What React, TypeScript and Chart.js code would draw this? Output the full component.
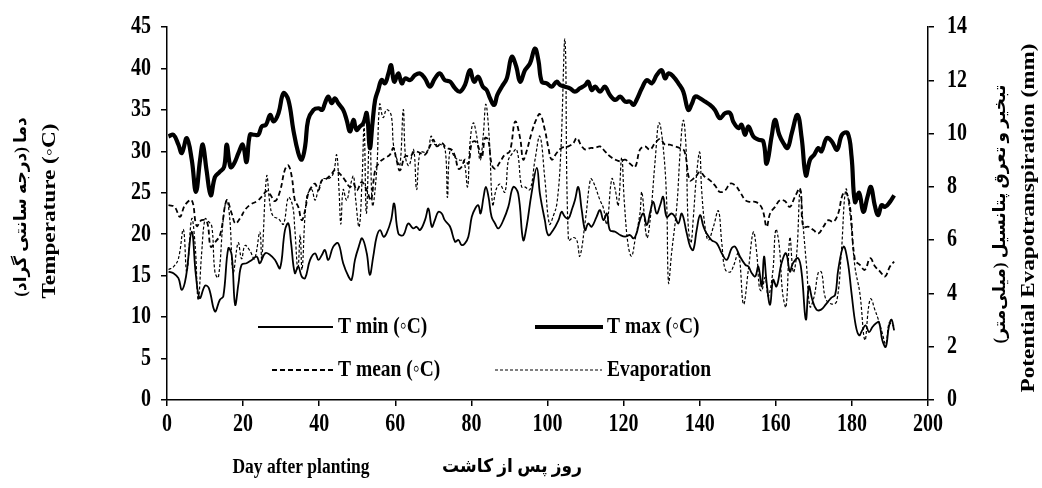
import React, { useEffect, useRef } from "react";
import { Chart, registerables } from "chart.js";
Chart.register(...registerables);

// ---- Data ----
const xTickValues = [0, 20, 40, 60, 80, 100, 120, 140, 160, 180, 200];
const leftTicks = [0, 5, 10, 15, 20, 25, 30, 35, 40, 45];
const rightTicks = [0, 2, 4, 6, 8, 10, 12, 14];

const seriesLabels = ["T min (◦C)", "T max (◦C)", "T mean (◦C)", "Evaporation"];

const tmaxDays = [0.4, 1.7, 3.0, 3.9, 5.2, 6.5, 7.6, 8.7, 9.4, 10.4, 11.5, 12.6, 13.8, 15, 15.7, 16.7, 17.6, 18.8, 19.9, 20.9, 21.8, 22.9, 24, 24.9, 26, 27.1, 28, 29.3, 30.6, 31.9, 33.2, 34.5, 35.4, 36.3, 37.1, 38.5, 39.8, 40.8, 41.5, 42.4, 43.3, 44.1, 45, 46.3, 47.2, 48.1, 49, 49.8, 50.7, 51.6, 52.5, 53.3, 54, 54.7, 55.5, 56.4, 57.3, 58.2, 58.9, 59.7, 60.8, 61.7, 62.6, 63.9, 65.2, 66.5, 67.8, 69.1, 70.4, 71.7, 73, 74.4, 75.7, 77, 78.3, 79.6, 80.7, 81.8, 83, 84, 84.9, 86, 86.8, 88, 89.3, 90.6, 91.8, 92.8, 94.1, 95.4, 96.7, 97.6, 98.5, 99.8, 101.1, 102.4, 103.3, 104.6, 105.9, 107.2, 108.5, 109.9, 110.7, 111.6, 112.5, 113.8, 115.1, 116.4, 117.8, 119.1, 120.4, 121.7, 122.6, 123.4, 124.8, 126.1, 127.4, 128.7, 130, 130.9, 131.8, 133.1, 134.4, 135.7, 137, 138, 138.8, 140.1, 141.4, 142.7, 144, 145.3, 146.7, 148, 148.8, 150.2, 151, 151.9, 152.8, 154.1, 155.4, 156.7, 157.6, 158.9, 159.8, 160.9, 162, 163.1, 164.2, 165.7, 166.8, 167.9, 169, 170.1, 171.2, 172, 173.4, 174.7, 176.1, 177.4, 178.9, 179.9, 180.8, 181.9, 183, 184.1, 185, 186, 186.9, 187.8, 188.7, 190, 191.1];
const tmaxVals = [31.8, 32.0, 30.8, 29.8, 31.6, 29, 25.1, 29, 30.8, 27.7, 24.7, 26.9, 27.5, 28.1, 30.8, 28.1, 28.5, 29.8, 30.8, 28.7, 32, 32, 32, 33, 33.2, 34.4, 33.6, 34.6, 37, 36.2, 32.6, 29.8, 29, 30.6, 33.8, 35, 35.2, 35, 35.8, 36.6, 35.8, 36.4, 35.8, 35, 33.8, 32.4, 33.8, 32.6, 33, 33.4, 34.6, 30.4, 33.4, 36.2, 37.4, 38.6, 38.2, 39.4, 40.4, 38.4, 39.4, 38.2, 38.8, 38.6, 39.2, 39.4, 38.8, 37.8, 38.8, 39.4, 38.6, 38.4, 37.6, 37.2, 38, 39.8, 38.4, 39, 37.8, 37.4, 36.4, 35.6, 36.8, 37.8, 38.8, 41.4, 40.2, 38.4, 39.8, 40.6, 42.4, 41, 38.4, 38.2, 37.8, 38.4, 38, 37.8, 37.6, 37.2, 37.6, 38, 38.4, 37.4, 37.8, 37.2, 37.8, 36.8, 36.2, 36.6, 36, 36, 35.6, 36.2, 37.6, 38.6, 38.2, 39.2, 39.8, 38.8, 39.4, 39, 38.2, 37.2, 35, 35.8, 36.6, 36.4, 36, 35.6, 35, 34, 34.6, 34.6, 33.6, 32.8, 33.2, 32, 33, 31.8, 31.4, 31.2, 28.5, 31.8, 33.8, 32, 31, 30.4, 32.2, 34.4, 31.6, 27.1, 29, 29.6, 30.4, 30, 31.6, 31.2, 30.2, 32, 32.2, 29.4, 23.9, 25, 22.7, 24.5, 25.7, 23.5, 22.3, 23.5, 23.3, 23.9, 24.7];

const tminDays = [0.4, 1.7, 3, 3.9, 5, 6.5, 7.6, 8.6, 10, 11, 12.6, 13.9, 14.8, 16.1, 17, 17.9, 18.8, 19.6, 20.9, 22.3, 23.6, 24.4, 25.8, 27.1, 28.4, 29.7, 31, 31.9, 32.6, 33.6, 34.5, 35.4, 36.3, 37.6, 38.9, 39.8, 40.7, 41.5, 42.4, 43.7, 45, 46.3, 47.7, 48.5, 49.4, 50.4, 51.3, 52.5, 53.3, 54.2, 55.1, 56, 56.9, 57.7, 58.9, 59.7, 60.8, 62.1, 63.4, 64.7, 65.6, 66.5, 67.8, 68.7, 69.6, 70.4, 71.3, 72.2, 73, 74.4, 75.7, 76.6, 77.4, 78.3, 79.2, 80.1, 81, 81.8, 82.4, 83.2, 83.8, 84.5, 85.3, 86.2, 87.1, 88.4, 89.7, 91, 92.3, 93.6, 94.5, 95.8, 97.2, 98, 99.3, 100.2, 101.5, 102.9, 103.7, 104.6, 105.5, 106.5, 107.2, 108.1, 109, 109.9, 110.7, 111.6, 112.9, 113.8, 114.7, 115.6, 116.4, 117.8, 119.1, 120.4, 121.7, 122.6, 123.4, 124.3, 125.2, 126.1, 127, 127.8, 128.7, 129.6, 130.4, 131.3, 132.6, 133.5, 134.4, 135.3, 136.6, 137.5, 138.3, 139.2, 140.1, 141, 141.8, 143.1, 144.5, 145.8, 147.1, 148.4, 149.3, 150.6, 152, 152.8, 153.7, 154.6, 155.4, 156.3, 156.9, 157.6, 158.5, 159.3, 160.2, 161.5, 162.7, 163.7, 164.5, 165.9, 166.8, 167.9, 168.7, 169.6, 170.7, 171.9, 173.1, 174.5, 175.6, 176.4, 177.8, 178.9, 179.9, 181, 181.9, 182.7, 183.6, 184.5, 185.4, 186.2, 187.1, 188, 188.9, 189.7, 190.4, 191.1];
const tminVals = [15.5, 15.3, 14.7, 13.3, 14.9, 20.3, 15, 12.3, 13.8, 13.5, 10.7, 12.1, 12.5, 18.3, 17.5, 11.5, 14.1, 16.3, 16.5, 16.9, 17.3, 16.5, 17.7, 17.5, 16.9, 15.9, 20.5, 21.3, 19, 15.3, 16.1, 14.9, 14.7, 16.9, 17.7, 16.9, 17.5, 18.1, 16.9, 18.5, 18.9, 16.5, 14.9, 14.5, 16.9, 18.5, 19.5, 17.7, 15.1, 17.3, 19.7, 20.5, 19.7, 20.1, 21.7, 23.7, 20.1, 19.9, 21.3, 20.7, 20.9, 20.5, 21.7, 23.1, 20.9, 21.7, 22.7, 22.5, 21.7, 20.9, 19.1, 19.3, 18.7, 18.9, 19.7, 22.1, 23.1, 23.5, 22.5, 24.5, 25.7, 24.5, 22.1, 21.3, 20.7, 21.7, 23.3, 25.7, 24.9, 19.3, 20.9, 24.9, 28, 24.9, 21.7, 19.9, 20.5, 21.7, 22.7, 22.1, 21.9, 23.1, 24.1, 25.7, 22.9, 20.5, 21.3, 20.9, 22.1, 22.9, 21.7, 22.5, 20.5, 20.3, 19.9, 19.7, 19.9, 19.5, 20.1, 21.7, 22.5, 21.1, 22.7, 23.9, 22.5, 23.5, 24.5, 22.1, 22.5, 22.1, 21.3, 22.5, 20.1, 18.5, 18.1, 20.5, 22.3, 20.9, 20.1, 19.3, 18.9, 17.7, 16.9, 18.3, 18.5, 17.3, 16.3, 16.1, 15.3, 14.9, 16.1, 13.7, 17.3, 14.1, 11.5, 14.5, 13.7, 16.5, 17.7, 15.5, 16.5, 17.1, 15.3, 9.7, 13.7, 12.1, 10.9, 10.9, 11.5, 12.3, 12.7, 15.7, 18.5, 16.7, 12.9, 9, 7.8, 8.4, 9, 8.2, 8.8, 9.2, 9.4, 7.2, 6.4, 8.8, 9.7, 8.4];

const tmeanDays = [0.4, 2, 3.4, 4.7, 6.5, 7.8, 9.1, 10.5, 11.5, 12.6, 14, 15.7, 17, 18, 19.3, 20.6, 22, 23.7, 25, 26.2, 27.1, 28.4, 29.7, 31, 31.9, 32.8, 33.6, 34.5, 35.4, 36.3, 37.1, 38, 38.9, 39.8, 40.7, 41.9, 43.3, 44.1, 45.8, 46.8, 48.1, 49, 49.9, 51.2, 52.5, 53.6, 54.7, 55.9, 57.3, 58.6, 59.5, 60.3, 61.2, 62.6, 63.9, 65.2, 66.5, 67.8, 69.1, 70, 70.9, 72.2, 73.5, 74.8, 75.7, 76.6, 77.4, 78.3, 79.2, 80.1, 81, 81.8, 82.7, 83.6, 84.4, 85.3, 86.2, 87.5, 88.8, 90.1, 91.5, 92.8, 93.6, 94.5, 95.8, 97, 98, 99.3, 100.2, 101.1, 102.4, 103.7, 105.5, 106.8, 107.7, 109, 110, 111.2, 112.5, 113.8, 115.1, 116.4, 117.8, 119.1, 120.4, 121.7, 123, 124.3, 125.6, 126.9, 128.3, 129.6, 130.9, 132.1, 133.4, 134.7, 136, 137.4, 138.8, 140.1, 141.4, 142.7, 144, 145.3, 146.7, 148, 149.3, 150.6, 152, 153.2, 154.6, 155.9, 156.7, 157.6, 158.5, 159.8, 161.1, 162.4, 163.7, 165, 166.4, 167.2, 168.6, 169.9, 171.2, 172.5, 173.8, 175.1, 176.4, 177.5, 178.4, 179.5, 180.8, 182.1, 183.4, 184.8, 186.1, 187.4, 188.7, 190, 191.1];
const tmeanVals = [23.5, 23.3, 22.1, 23.5, 24.1, 21, 21.7, 21.5, 18.5, 19, 20, 24.1, 22.5, 21.3, 22, 23, 23.6, 24, 24.6, 25.2, 24.8, 24, 25.2, 27.8, 28.3, 26.9, 24.1, 23.3, 21.7, 22.9, 24.9, 25.7, 26.1, 25.3, 26.5, 26.7, 27.3, 27.7, 27.1, 26.5, 25.7, 26.1, 25.3, 26.3, 25.3, 24.1, 27.7, 28.7, 29.2, 29.6, 30.4, 29, 27.7, 29.4, 29.4, 30, 29.8, 29.6, 30.6, 31.4, 30.6, 31, 30.4, 30.2, 29.4, 27.9, 28.1, 29, 28.5, 31, 31.2, 30.6, 29.2, 31.6, 31.4, 28.5, 27.9, 28.7, 29.6, 30, 33.6, 31.6, 29, 30, 32.2, 33.8, 34.5, 32.6, 30.5, 29, 29.8, 30.4, 30.6, 31, 31.6, 30.6, 30.2, 30.4, 30.4, 30.6, 30, 29.4, 29, 28.8, 29, 28.5, 28.1, 30.2, 30.6, 30.2, 31, 31.5, 30.8, 30.8, 30.6, 30.4, 30, 26.5, 26.9, 27.5, 26.9, 26.5, 25.9, 25.1, 25.3, 26.1, 25.9, 25.1, 24.1, 23.9, 23.9, 23.5, 22.7, 20.9, 22.5, 23.3, 24.1, 24, 23.3, 24.5, 25.5, 20.9, 20.9, 20.5, 20.1, 20.9, 21.7, 21.5, 22.5, 24.7, 25.1, 23.3, 16.9, 16.3, 15.7, 17.1, 16.1, 15.5, 14.9, 16.1, 16.7];

const evapDays = [0.4, 1.7, 3, 4.3, 5.2, 6.5, 7.4, 8.2, 9.1, 10, 10.9, 11.8, 12.6, 13.5, 14.8, 15.7, 16.5, 17.4, 18.7, 19.6, 20.5, 21.8, 23, 24.4, 24.9, 26.2, 27.1, 27.9, 29.3, 30.6, 31.9, 33, 33.6, 34.4, 35, 35.5, 36.7, 38, 38.9, 39.8, 41.1, 42.4, 43.7, 44.6, 45.2, 45.7, 46.3, 47.2, 48.1, 49, 49.6, 50.5, 51.3, 51.8, 52.4, 53.3, 54, 55.1, 55.9, 56.8, 57.7, 58.9, 59.5, 60.3, 61.2, 62.1, 62.7, 63.6, 64.8, 65.6, 66.5, 67.8, 68.7, 69.4, 70.3, 71.8, 73.1, 73.7, 74.4, 75.7, 77, 78, 79, 79.6, 80.5, 81.4, 82.3, 83.1, 83.8, 84.7, 85.6, 86.5, 87.5, 88.8, 89.7, 90.5, 91.9, 93.2, 94, 95.4, 96.7, 98, 99.3, 100.5, 101.5, 102.5, 103.5, 104.6, 105.5, 106.8, 107.7, 108.5, 110, 111.3, 112, 113.8, 114.7, 115.6, 116.9, 117.8, 118.6, 119.5, 120.2, 121.2, 122.1, 123, 124.3, 124.8, 126.1, 127, 128.3, 129.3, 130.4, 131.3, 131.8, 132.6, 134, 134.9, 135.7, 136.4, 137, 137.7, 138.3, 139.2, 140, 140.5, 141.4, 142.3, 143.6, 144.9, 145.8, 146.7, 148, 148.8, 150.2, 151.5, 152.8, 154.1, 155, 155.7, 156.3, 157.2, 158, 159.2, 160, 160.9, 161.8, 162.7, 163.7, 164.6, 165.5, 166.4, 167.2, 168.1, 169, 170.1, 171.2, 172, 173.1, 174.7, 176, 177.2, 178.4, 179.5, 180.8, 182.1, 183.4, 184.4, 185, 186, 187, 188, 188.9, 189.8, 190.6, 191.1];
const evapVals = [4.9, 5.0, 5.3, 6.4, 4.8, 6.8, 5.8, 3.75, 5.5, 6.8, 6.7, 6.5, 4.8, 4.6, 6.8, 7.5, 6.8, 4.8, 5.9, 5.3, 5.8, 5.6, 5.3, 6.3, 5.3, 8.4, 7.3, 6.9, 6.8, 6.6, 7.6, 7.3, 6.4, 4.9, 6.2, 4.9, 7.6, 7.9, 7.5, 7.9, 8.3, 8.3, 8.5, 9.2, 7.9, 6.6, 7.9, 7.5, 8, 8.4, 7.5, 6.5, 8.4, 10.3, 7.0, 10.2, 7.3, 8.6, 11.1, 10.6, 10.9, 10.7, 9.6, 9.1, 8.8, 10.9, 9.1, 8.8, 9.4, 7.9, 9.3, 9.3, 9.4, 9.9, 9.6, 9.6, 9.4, 7.6, 9.4, 9.1, 9, 9, 8, 9.6, 10.4, 9.9, 9, 9.9, 11.1, 9.8, 7.3, 7.9, 8.1, 7.8, 9, 9.2, 9.4, 8, 8, 7.9, 9, 9.9, 8.3, 6.6, 6.9, 7.4, 9.3, 13.5, 6.0, 6.1, 6.0, 5.4, 6.8, 8.3, 8.2, 7.5, 7.2, 6.6, 8.3, 7.9, 7.3, 9.1, 7.4, 5.8, 5.4, 6, 7, 7.8, 6.1, 6.8, 9, 10.4, 9.5, 7.5, 4.4, 5.5, 7.3, 9.4, 10.5, 9.5, 6.5, 5.9, 6.8, 8.5, 9.3, 7.9, 6.5, 6, 6.5, 7.1, 5.9, 4.9, 4.8, 5, 5.5, 3.6, 4.9, 6.3, 5.5, 4.2, 4.1, 4.6, 3.9, 4.8, 6.4, 5.8, 4, 3.5, 6.1, 4.8, 5.5, 7.9, 6.5, 5, 3.5, 3.9, 4.8, 4.8, 3.8, 3.6, 3.7, 5.5, 7.9, 7.0, 5, 4, 2.25, 3.5, 3.8, 3.4, 3, 2.5, 2.1, 2.9, 2.8, 2.8];

const leftTitleFa = "دما (درجه سانتی گراد)";
const leftTitleEn = "Temperature (◦C)";
const rightTitleFa = "تبخیر و تعرق پتانسیل (میلی‌متر)";
const rightTitleEn = "Potential Evapotranspiration (mm)";
const xTitleEn = "Day after planting";
const xTitleFa = "روز پس از کاشت";

const SERIF = "'Liberation Serif', 'Times New Roman', 'DejaVu Sans', serif";
const STRETCH = 1.22; // the figure's text is taller than it is wide

function pts(days: number[], vals: number[]) {
  return days.map((d, i) => ({ x: d, y: vals[i] }));
}

const decorPlugin = {
  id: "decor",
  afterDraw(chart: any) {
    const ctx = chart.ctx as CanvasRenderingContext2D;
    ctx.save();
    ctx.fillStyle = "#000";
    ctx.strokeStyle = "#000";

    // horizontal text, stretched vertically
    const ht = (text: string, x: number, y: number, size: number, align: CanvasTextAlign, stretch = STRETCH) => {
      ctx.save();
      ctx.translate(x, y);
      ctx.scale(1, stretch);
      ctx.font = `bold ${size}px ${SERIF}`;
      ctx.textAlign = align;
      ctx.textBaseline = "middle";
      ctx.fillText(text, 0, 0);
      ctx.restore();
    };
    // vertical text (bottom-to-top), stretched along its length
    const vt = (text: string, x: number, y: number, size: number, stretch: number) => {
      ctx.save();
      ctx.translate(x, y);
      ctx.rotate(-Math.PI / 2);
      ctx.scale(stretch, 1);
      ctx.font = `bold ${size}px ${SERIF}`;
      ctx.textAlign = "center";
      ctx.textBaseline = "middle";
      ctx.fillText(text, 0, 0);
      ctx.restore();
    };

    // tick labels through the chart's scales
    const sx = chart.scales.x, sy = chart.scales.y, sy1 = chart.scales.y1;
    for (const v of xTickValues) ht(String(v), sx.getPixelForValue(v), 425, 20, "center");
    for (const v of leftTicks) ht(String(v), 151, sy.getPixelForValue(v), 20, "right");
    for (const v of rightTicks) ht(String(v), 947, sy1.getPixelForValue(v), 20, "left");

    vt(leftTitleFa, 22, 207, 17, 1.0);
    vt(leftTitleEn, 50, 211, 19, STRETCH);
    vt(rightTitleFa, 1001, 214, 17, 1.0);
    vt(rightTitleEn, 1029, 218, 19, STRETCH);

    ht(xTitleEn, 301, 467, 17.5, "center");
    ht(xTitleFa, 512, 467, 17, "center", 1.1);

    // legend
    const legend = [
      { x1: 258, x2: 333, y: 327, w: 1.8, dash: [] as number[], tx: 338, label: seriesLabels[0] },
      { x1: 535, x2: 603, y: 327, w: 4, dash: [] as number[], tx: 607, label: seriesLabels[1] },
      { x1: 272, x2: 333, y: 370, w: 1.8, dash: [5, 3], tx: 338, label: seriesLabels[2] },
      { x1: 495, x2: 602, y: 370, w: 1.2, dash: [3, 2], tx: 607, label: seriesLabels[3] },
    ];
    for (const l of legend) {
      ctx.beginPath();
      ctx.setLineDash(l.dash);
      ctx.lineWidth = l.w;
      ctx.moveTo(l.x1, l.y);
      ctx.lineTo(l.x2, l.y);
      ctx.stroke();
      ctx.setLineDash([]);
      ht(l.label, l.tx, l.y, 19.5, "left");
    }
    ctx.restore();
  },
};

export default function App() {
  const ref = useRef<HTMLCanvasElement | null>(null);
  useEffect(() => {
    document.body.style.margin = "0";
    const canvas = ref.current!;
    const hiddenTicks = { color: "rgba(0,0,0,0)", font: { family: SERIF, weight: "bold" as const, size: 20 }, autoSkip: false, padding: 8 };
    const axisGrid = { drawOnChartArea: false, drawTicks: true, tickLength: 6, color: "#000", lineWidth: 1.5 };
    const axisBorder = { display: true, color: "#000", width: 1.5 };
    const chart = new Chart(canvas, {
      type: "line",
      data: {
        datasets: [
          { label: seriesLabels[0], data: pts(tminDays, tminVals), yAxisID: "y", borderColor: "#000", borderWidth: 1.8, tension: 0.4, pointRadius: 0, fill: false },
          { label: seriesLabels[1], data: pts(tmaxDays, tmaxVals), yAxisID: "y", borderColor: "#000", borderWidth: 4.2, tension: 0.4, pointRadius: 0, fill: false },
          { label: seriesLabels[2], data: pts(tmeanDays, tmeanVals), yAxisID: "y", borderColor: "#000", borderWidth: 1.8, borderDash: [5, 3], tension: 0.4, pointRadius: 0, fill: false },
          { label: seriesLabels[3], data: pts(evapDays, evapVals), yAxisID: "y1", borderColor: "#000", borderWidth: 1.2, borderDash: [3, 2], tension: 0.4, pointRadius: 0, fill: false },
        ],
      },
      options: {
        responsive: false,
        animation: false,
        devicePixelRatio: 1,
        layout: { padding: { top: 27, left: 0, right: 0, bottom: 0 } },
        plugins: { legend: { display: false }, tooltip: { enabled: false } },
        scales: {
          x: {
            type: "linear",
            min: 0,
            max: 200,
            afterBuildTicks: (s: any) => { s.ticks = xTickValues.map((v) => ({ value: v })); },
            ticks: { ...hiddenTicks, maxRotation: 0 },
            grid: axisGrid,
            border: axisBorder,
            afterFit: (s: any) => { s.height = 88; },
          },
          y: {
            type: "linear",
            position: "left",
            min: 0,
            max: 45,
            afterBuildTicks: (s: any) => { s.ticks = leftTicks.map((v) => ({ value: v })); },
            ticks: hiddenTicks,
            grid: axisGrid,
            border: axisBorder,
            afterFit: (s: any) => { s.width = 167; },
          },
          y1: {
            type: "linear",
            position: "right",
            min: 0,
            max: 14,
            afterBuildTicks: (s: any) => { s.ticks = rightTicks.map((v) => ({ value: v })); },
            ticks: hiddenTicks,
            grid: axisGrid,
            border: axisBorder,
            afterFit: (s: any) => { s.width = 114; },
          },
        },
      },
      plugins: [decorPlugin],
    } as any);
    return () => chart.destroy();
  }, []);
  return <canvas ref={ref} width={1042} height={488} style={{ display: "block" }} />;
}
